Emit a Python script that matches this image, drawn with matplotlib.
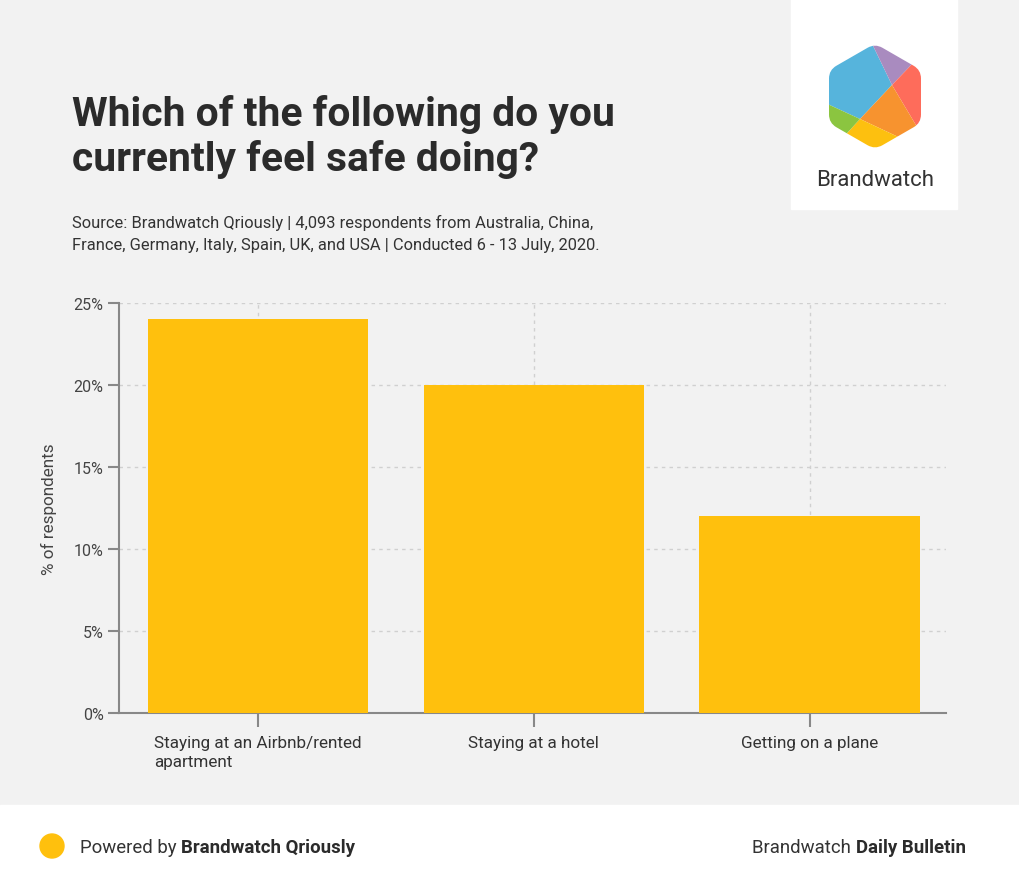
import matplotlib.pyplot as plt
from matplotlib.patches import Polygon, Rectangle, Circle, PathPatch
from matplotlib.path import Path

plt.rcParams['font.family'] = ['Roboto', 'DejaVu Sans']

# Data
categories = ['Staying at an Airbnb/rented\napartment', 'Staying at a hotel', 'Getting on a plane']
values = [24, 20, 12]
yticks = [0, 5, 10, 15, 20, 25]
ytick_labels = ['0%', '5%', '10%', '15%', '20%', '25%']

W, H = 1020, 887
fig = plt.figure(figsize=(W / 100, H / 100), dpi=100)
fig.patch.set_facecolor('#f2f2f2')

# footer band and logo box (pixel coords, y down)
bg = fig.add_axes([0, 0, 1, 1])
bg.set_xlim(0, W)
bg.set_ylim(H, 0)
bg.axis('off')
bg.add_patch(Rectangle((0, 806), W, H - 806, color='white', zorder=0))
bg.add_patch(Rectangle((791, 0), 166, 210, color='white', zorder=0))

# logo hexagon with rounded corners
cx, cy, R = 875, 97.5, 53
corners = [(cx, cy - R), (cx + 46, cy - R / 2), (cx + 46, cy + R / 2),
           (cx, cy + R), (cx - 46, cy + R / 2), (cx - 46, cy - R / 2)]
t = 0.16
verts, codes = [], []
n = len(corners)
for i in range(n):
    p0 = corners[i - 1]
    p1 = corners[i]
    p2 = corners[(i + 1) % n]
    a = (p1[0] + (p0[0] - p1[0]) * t, p1[1] + (p0[1] - p1[1]) * t)
    b = (p1[0] + (p2[0] - p1[0]) * t, p1[1] + (p2[1] - p1[1]) * t)
    verts += [a, p1, b]
    codes += [Path.MOVETO if i == 0 else Path.LINETO, Path.CURVE3, Path.CURVE3]
verts.append(verts[0])
codes.append(Path.CLOSEPOLY)
hexagon = PathPatch(Path(verts, codes), facecolor='none', edgecolor='none')
bg.add_patch(hexagon)
C = (892, 86)
E = (860, 120)
pieces = [
    ([C, E, (810, 97), (810, 20), (862, 24)], '#56b4dc'),
    ([C, (862, 24), (862, 15), (950, 15), (950, 40), (940, 36)], '#a98bbf'),
    ([C, (940, 36), (950, 40), (950, 160), (935, 158)], '#fe6c5b'),
    ([C, (935, 158), (909, 143), E], '#f7932f'),
    ([E, (909, 143), (905, 175), (835, 175), (838, 144)], '#fdc00f'),
    ([E, (838, 144), (810, 140), (810, 97)], '#8bc540'),
]
for pts, col in pieces:
    p = Polygon(pts, closed=True, facecolor=col, edgecolor='none', zorder=2)
    bg.add_patch(p)
    p.set_clip_path(hexagon)
bg.text(875, 181, 'Brandwatch', fontsize=16, color='#333333', ha='center', va='center')

# title and subtitle (baseline of the last line)
fig.text(72 / W, 1 - 171 / H, 'Which of the following do you\ncurrently feel safe doing?',
         fontsize=29.3, fontweight='bold', color='#2b2b2b', ha='left', va='baseline',
         linespacing=1.2)
fig.text(72 / W, 1 - 250 / H,
         'Source: Brandwatch Qriously | 4,093 respondents from Australia, China,\n'
         'France, Germany, Italy, Spain, UK, and USA | Conducted 6 - 13 July, 2020.',
         fontsize=11.9, color='#333333', ha='left', va='baseline', linespacing=1.6)

# chart
ax = fig.add_axes([119 / W, 1 - 714 / H, (946 - 119) / W, (714 - 304) / H])
ax.set_facecolor('#f2f2f2')
x = list(range(len(categories)))
ax.bar(x, values, width=0.8, color='#ffc00d', zorder=3)
ax.set_xlim(-0.505, 2.495)
ax.set_ylim(0, 25)
ax.set_yticks(yticks)
ax.set_yticklabels(ytick_labels)
ax.set_xticks(x)
ax.set_xticklabels(categories, multialignment='left', linespacing=1.3)
ax.grid(True, color='#d0d0d0', linestyle=(0, (2.5, 3)), linewidth=1, zorder=0)
for s in ['top', 'right']:
    ax.spines[s].set_visible(False)
for s in ['left', 'bottom']:
    ax.spines[s].set_color('#888888')
    ax.spines[s].set_linewidth(1.5)
ax.tick_params(axis='y', length=8, width=1.5, color='#888888', labelsize=11.5,
               labelcolor='#444444', pad=3)
ax.tick_params(axis='x', length=10, width=1.5, color='#888888', labelsize=12.3,
               labelcolor='#333333', pad=6)
ax.set_ylabel('% of respondents', fontsize=12.3, color='#444444', labelpad=12)

# footer
bg.add_patch(Circle((52, 847), 12, color='#ffc00d', zorder=2))
renderer = fig.canvas.get_renderer()
inv = bg.transData.inverted()

t1 = bg.text(80, 848, 'Powered by ', fontsize=13.4, color='#333333', ha='left', va='center')
x_end = inv.transform((t1.get_window_extent(renderer).x1, 0))[0]
bg.text(x_end, 848, 'Brandwatch Qriously', fontsize=13.4, fontweight='bold', color='#2b2b2b',
        ha='left', va='center')

t2 = bg.text(966, 848, 'Daily Bulletin', fontsize=13.4, fontweight='bold', color='#2b2b2b',
             ha='right', va='center')
x_start = inv.transform((t2.get_window_extent(renderer).x0, 0))[0]
bg.text(x_start, 848, 'Brandwatch\u00a0', fontsize=13.4, color='#333333', ha='right', va='center')

fig.savefig('out.png', dpi=100, facecolor=fig.get_facecolor())
